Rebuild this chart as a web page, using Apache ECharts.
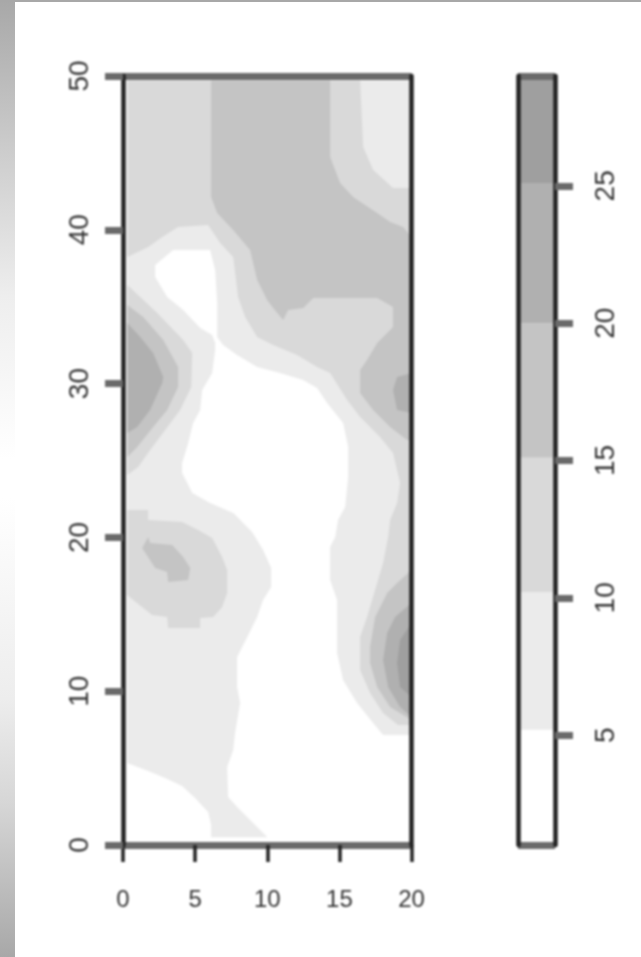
<!DOCTYPE html>
<html>
<head>
<meta charset="utf-8">
<style>
html,body{margin:0;padding:0;background:#fff;overflow:hidden}
#chart{position:absolute;left:0;top:0;width:641px;height:957px;filter:blur(0.8px)}
#edgeLeft{position:absolute;left:0;top:0;width:15px;height:957px;background:linear-gradient(#a8a8a8 0%,#cdcdcd 16%,#eeeeee 31%,#ffffff 48%,#ffffff 52%,#ededed 73%,#d6d6d6 84%,#a8a8a8 100%)}
#edgeTop{position:absolute;left:0;top:0;width:641px;height:2px;background:#a8a8a8}
</style>
</head>
<body>
<div id="chart"></div>
<div id="edgeLeft"></div>
<div id="edgeTop"></div>
<script src="https://cdn.jsdelivr.net/npm/echarts@6/dist/echarts.min.js"></script>
<script>
// Tick values
const xTicks = [0, 5, 10, 15, 20];
const yTicks = [0, 10, 20, 30, 40, 50];
const scaleTicks = [5, 10, 15, 20, 25];

// Contour levels: band i spans levels[i]..levels[i+1]
const levels = [1, 5.2, 10.2, 15.1, 20, 25.1, 29];
const bandColors = ['#ffffff', '#ebebeb', '#d9d9d9', '#c4c4c4', '#b0b0b0', '#9f9f9f'];

// Contour outlines in data units [x, y]
const fieldOutline = [[0.3,0.5],[20,0.5],[20,49.7],[0.3,49.7]];
const lowCorner = [[0.29,5.33],[1.75,4.81],[2.92,4.36],[4.10,3.84],[5.00,3.06],[5.90,2.15],[6.11,1.30],[6.11,0],[0.29,0]];
const lowCentre = [[9.99,0],[9.99,0.52],[9.02,1.43],[7.91,2.47],[7.29,3.12],[7.22,5.07],[7.64,6.18],[7.77,7.28],[8.12,9.23],[7.91,10.27],[7.91,12.22],[8.61,13.52],[9.30,14.82],[9.71,15.93],[10.27,16.77],[10.27,18.01],[9.71,19.18],[8.95,20.35],[7.64,21.59],[6.04,22.24],[4.80,22.89],[4.10,24.19],[4.10,24.84],[4.52,26.14],[4.86,27.44],[5.35,28.28],[5.49,29.58],[6.18,30.69],[6.39,32.18],[6.39,32.64],[6.18,33.16],[5.35,33.62],[4.17,34.79],[3.06,35.63],[2.23,36.93],[2.23,37.71],[3.48,38.69],[6.04,38.69],[6.39,37.39],[6.53,35.24],[6.53,33.03],[6.94,32.51],[7.91,31.86],[9.30,31.08],[10.89,30.69],[12.49,30.24],[13.46,29.71],[14.15,28.74],[15.26,27.44],[15.61,25.88],[15.61,23.93],[15.40,21.98],[14.91,21.13],[14.71,20.03],[14.36,19.38],[14.36,17.23],[14.84,15.93],[14.84,12.48],[15.26,10.73],[16.23,9.23],[17.34,7.93],[18.03,7.15],[20,7.15],[20,0]];
const over10Top = [[0.3,49.7],[16.44,49.7],[16.65,45.38],[17.34,43.89],[18.72,42.72],[20,42.72],[20,7.80],[19.07,7.80],[18.03,8.58],[17.13,9.88],[16.44,11.38],[16.44,13.52],[16.92,14.82],[17.62,17.04],[18.03,18.34],[18.38,20.03],[18.52,21.13],[19.00,22.24],[19.21,23.54],[18.72,25.49],[17.82,26.53],[16.44,27.83],[15.54,28.93],[14.36,30.69],[13.46,31.08],[12.07,31.86],[10.41,32.51],[9.30,33.03],[8.47,34.33],[7.98,35.63],[7.64,38.23],[6.74,39.14],[5.90,40.31],[3.82,40.18],[2.72,39.53],[1.75,38.88],[0.3,38.23]];
const over10Left = [[0.3,36.41],[2.37,34.59],[4.17,32.84],[4.80,31.99],[4.73,29.78],[3.96,28.28],[2.92,26.98],[1.88,25.68],[1.05,24.58],[0.3,24.06]];
const over10Centre = [[0.3,21.78],[1.75,21.78],[1.75,21.13],[4.10,21.00],[5.21,20.48],[6.18,19.96],[6.87,18.73],[7.22,17.88],[7.22,16.38],[6.87,15.47],[6.25,14.82],[5.35,14.76],[5.35,14.11],[3.13,14.11],[3.06,14.82],[2.02,14.95],[0.71,15.93],[0.3,16.26]];
const over15Top = [[6.11,49.7],[14.36,49.7],[14.36,44.73],[15.05,43.04],[15.95,42.13],[17.62,41.09],[18.52,40.51],[19.42,40.18],[20,39.53],[20,26.33],[19.69,26.33],[18.52,27.18],[17.34,28.28],[16.44,29.39],[16.44,30.88],[16.92,31.53],[17.62,32.64],[18.72,33.68],[18.72,34.98],[17.62,35.57],[13.18,35.57],[12.49,34.92],[11.45,34.79],[11.10,34.14],[10.41,34.92],[9.99,35.44],[9.30,36.74],[8.81,38.69],[7.64,39.99],[6.53,41.09],[6.11,42.13]];
const over15Left = [[0.3,35.11],[1.40,34.33],[2.79,32.84],[3.82,31.08],[3.82,29.78],[3.06,28.28],[2.09,27.18],[0.98,25.88],[0.3,25.23]];
const over15Centre = [[1.75,20.03],[1.88,19.64],[3.41,19.51],[4.17,18.73],[4.66,18.01],[4.52,17.23],[3.13,17.10],[3.06,17.75],[2.23,18.01],[1.33,19.31]];
const over15Right = [[20,17.88],[19.00,17.04],[18.31,16.38],[17.48,14.82],[17.13,12.87],[17.13,11.83],[17.62,10.27],[18.52,8.97],[20,8.13]];
const over20Left = [[0.3,33.94],[1.19,33.03],[2.09,31.99],[2.79,30.43],[2.72,30.04],[1.88,28.28],[0.98,27.18],[0.3,26.79]];
const over20Upper = [[20,30.69],[19.00,30.43],[18.72,29.58],[19.00,28.28],[20,28.09]];
const over20Right = [[20,15.73],[18.86,14.82],[18.31,13.78],[18.03,12.03],[18.38,10.27],[19.21,8.97],[20,8.32]];
const over25Right = [[20,14.43],[19.21,13.33],[19.00,11.83],[19.21,10.27],[20,9.62]];

// Painting order: [band index, outline]
const regions = [
  [1, fieldOutline], [0, lowCorner], [0, lowCentre],
  [2, over10Top], [2, over10Left], [2, over10Centre],
  [3, over15Top], [3, over15Left], [3, over15Centre], [3, over15Right],
  [4, over20Left], [4, over20Upper], [4, over20Right],
  [5, over25Right]
];

const INK = '#222222', GREY = '#6a6a6a';
const sideFont = {color: '#333333', fontFamily: '"Liberation Sans",sans-serif', fontSize: 28};
const baseFont = {color: '#333333', fontFamily: '"Liberation Sans",sans-serif', fontSize: 24};

function hidden() {
  return {axisLine: {show: false}, axisTick: {show: false}, axisLabel: {show: false}, splitLine: {show: false}};
}
function horizontal(gridIndex, position, min, max) {
  return Object.assign(hidden(), {
    type: 'value', gridIndex, position, min, max, z: 5,
    axisLine: {show: true, onZero: false, lineStyle: {color: GREY, width: 7, cap: 'butt'}}
  });
}
function vertical(gridIndex, position, min, max) {
  return Object.assign(hidden(), {
    type: 'value', gridIndex, position, min, max, z: 6,
    axisLine: {show: true, onZero: false, lineStyle: {color: INK, width: 4.5}}
  });
}

const xMain = horizontal(0, 'bottom', 0, 20);
xMain.interval = 5;
xMain.axisTick = {show: true, length: 17, lineStyle: {color: INK, width: 3.5}};
xMain.axisLabel = Object.assign({show: true, margin: 43, formatter: v => xTicks.includes(v) ? String(v) : ''}, baseFont);

const yMain = vertical(0, 'left', 0, 50);
yMain.interval = 10;
yMain.axisTick = {show: true, length: 18, lineStyle: {color: GREY, width: 7}};
yMain.axisLabel = Object.assign({show: true, rotate: 90, margin: 29, formatter: v => yTicks.includes(v) ? String(v) : ''}, sideFont);

const yScale = vertical(1, 'right', levels[0], levels[levels.length - 1]);
yScale.axisTick = {show: true, length: 18, customValues: scaleTicks, lineStyle: {color: GREY, width: 7}};
yScale.axisLabel = Object.assign({show: true, rotate: 90, margin: 37, customValues: scaleTicks, formatter: v => String(v)}, sideFont);

const option = {
  animation: false,
  backgroundColor: '#ffffff',
  grid: [
    {left: 123, right: 229.5, top: 76, bottom: 112},
    {left: 518, right: 86, top: 76, bottom: 112}
  ],
  xAxis: [
    xMain,
    horizontal(0, 'top', 0, 20),
    horizontal(1, 'bottom', 0, 1),
    horizontal(1, 'top', 0, 1)
  ],
  yAxis: [
    yMain,
    vertical(0, 'right', 0, 50),
    yScale,
    vertical(1, 'left', levels[0], levels[levels.length - 1])
  ],
  series: [
    {
      type: 'custom', name: 'field', coordinateSystem: 'cartesian2d',
      xAxisIndex: 0, yAxisIndex: 0, z: 1, silent: true, clip: true,
      data: regions.map((r, i) => [i]),
      renderItem(params, api) {
        const region = regions[params.dataIndex];
        return {
          type: 'polygon',
          shape: {points: region[1].map(p => api.coord(p))},
          style: {fill: bandColors[region[0]], stroke: null}
        };
      }
    },
    {
      type: 'custom', name: 'key', coordinateSystem: 'cartesian2d',
      xAxisIndex: 2, yAxisIndex: 2, z: 1, silent: true,
      data: bandColors.map((c, i) => [i]),
      renderItem(params, api) {
        const i = params.dataIndex;
        const a = api.coord([0, levels[i]]);
        const b = api.coord([1, levels[i + 1]]);
        return {
          type: 'rect',
          shape: {x: a[0], y: b[1], width: b[0] - a[0], height: a[1] - b[1]},
          style: {fill: bandColors[i], stroke: null}
        };
      }
    }
  ]
};
const chart = echarts.init(document.getElementById('chart'), null, {renderer: 'canvas'});
chart.setOption(option);
</script>
</body>
</html>
